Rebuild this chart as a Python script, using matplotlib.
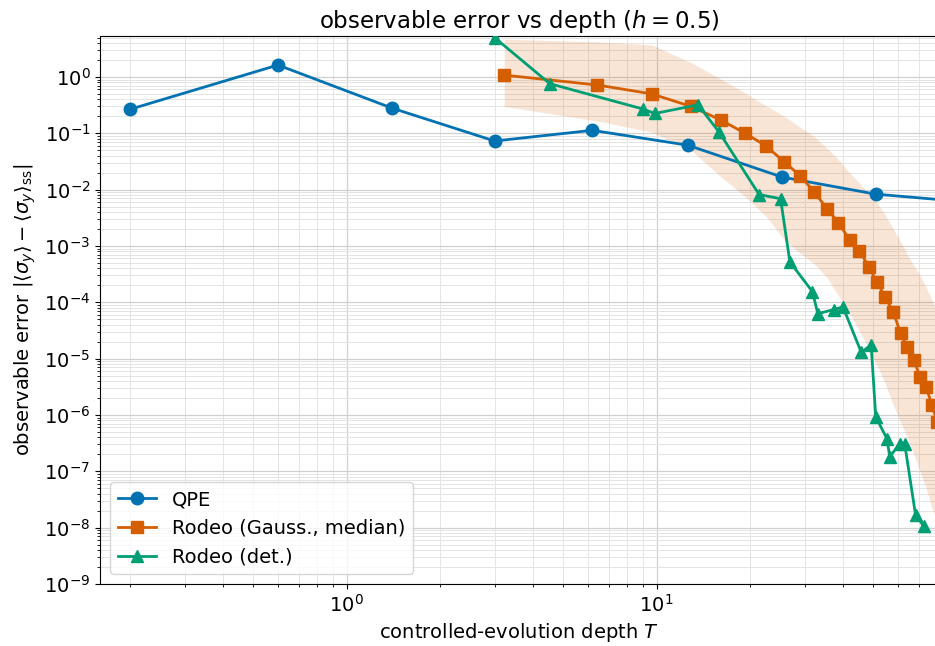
import numpy as np
import matplotlib
matplotlib.use("Agg")
import matplotlib.pyplot as plt
from matplotlib.ticker import LogLocator, NullFormatter, FixedLocator

# QPE
qpe_T = [0.2, 0.6, 1.4, 3.0, 6.2, 12.6, 25.4, 51.0, 102.2]
qpe_err = [0.267, 1.63, 0.28, 0.073, 0.113, 0.0615, 0.0167, 0.0083, 0.006]

# Rodeo Gaussian (median + band)
gauss_T = [3.22, 6.44, 9.66, 12.9, 16.1, 19.3, 22.5, 25.8, 29.0, 32.2, 35.4, 38.6,
           41.9, 45.1, 48.3, 51.5, 54.7, 58.0, 61.2, 64.4, 67.6, 70.8, 74.1, 77.3, 80.5]
gauss_med = [1.08, 0.72, 0.5, 0.30, 0.172, 0.1, 0.06, 0.031, 0.0178, 0.0092, 0.0046, 0.0026,
             1.28e-3, 8.3e-4, 4.3e-4, 2.25e-4, 1.22e-4, 6.7e-5, 2.85e-5, 1.6e-5, 9.3e-6,
             4.7e-6, 3.1e-6, 1.48e-6, 7.5e-7]
gauss_hi = [4.7, 4.2, 3.7, 1.8, 0.92, 0.52, 0.31, 0.2, 0.13, 0.088, 0.055, 0.034,
            0.02, 0.013, 0.0085, 0.0058, 0.0035, 0.002, 0.0012, 7e-4, 4.5e-4, 3e-4,
            1.8e-4, 1.1e-4, 6e-5]
gauss_lo = [0.3, 0.165, 0.105, 0.05, 0.017, 0.0075, 0.0034, 0.0013, 7.5e-4, 4.8e-4,
            2.8e-4, 1.3e-4, 6.5e-5, 3.1e-5, 1.5e-5, 7.5e-6, 3.5e-6, 1.5e-6, 7.5e-7,
            4e-7, 2e-7, 1e-7, 5e-8, 2.2e-8, 1.2e-8]

# Rodeo deterministic
det_T = [3.0, 4.52, 9.03, 9.86, 13.6, 15.9, 21.4, 25.1, 26.9, 31.8, 33.1, 37.2, 39.9,
         45.7, 49.2, 50.9, 55.3, 56.5, 60.8, 63.1, 68.4, 72.8]
det_err = [5.0, 0.76, 0.27, 0.225, 0.32, 0.105, 8.2e-3, 6.9e-3, 5.2e-4, 1.55e-4, 6.3e-5,
           7.4e-5, 8.3e-5, 1.3e-5, 1.75e-5, 9.3e-7, 3.8e-7, 1.8e-7, 3.1e-7, 3.1e-7,
           1.7e-8, 1.05e-8]

x_major_ticks = [1, 10]

BLUE = "#0072B2"
ORANGE = "#D55E00"
GREEN = "#009E73"

fig = plt.figure(figsize=(9.35, 6.46), dpi=100)
ax = fig.add_axes([0.107, 0.096, 0.8965, 0.848])

ax.fill_between(gauss_T, gauss_lo, gauss_hi, color=ORANGE, alpha=0.16, linewidth=0, zorder=1)
ax.plot(qpe_T, qpe_err, marker="o", color=BLUE, lw=2, ms=9, label="QPE", zorder=3)
ax.plot(gauss_T, gauss_med, marker="s", color=ORANGE, lw=2, ms=9,
        label="Rodeo (Gauss., median)", zorder=3)
ax.plot(det_T, det_err, marker="^", color=GREEN, lw=2, ms=9, label="Rodeo (det.)", zorder=3)

ax.set_xscale("log")
ax.set_yscale("log")
ax.set_xlim(0.16, 81)
ax.set_ylim(1e-9, 5.3)

ax.xaxis.set_major_locator(FixedLocator(x_major_ticks))
ax.xaxis.set_minor_locator(LogLocator(base=10, subs=np.arange(2, 10), numticks=20))
ax.xaxis.set_minor_formatter(NullFormatter())
ax.yaxis.set_major_locator(LogLocator(base=10, numticks=20))
ax.yaxis.set_minor_locator(LogLocator(base=10, subs=np.arange(2, 10), numticks=20))
ax.yaxis.set_minor_formatter(NullFormatter())

ax.grid(True, which="major", color="#d0d0d0", lw=0.9)
ax.grid(True, which="minor", color="#e4e4e4", lw=0.7)
ax.set_axisbelow(True)

ax.tick_params(labelsize=14)
ax.set_xlabel(r"controlled-evolution depth $T$", fontsize=14)
ax.set_ylabel(r"observable error $|\langle\sigma_y\rangle - \langle\sigma_y\rangle_{\rm ss}|$", fontsize=14)
ax.set_title(r"observable error vs depth ($h=0.5$)", fontsize=16.5)

ax.legend(loc="lower left", fontsize=14, framealpha=0.8)

fig.savefig("out.png", dpi=100)
